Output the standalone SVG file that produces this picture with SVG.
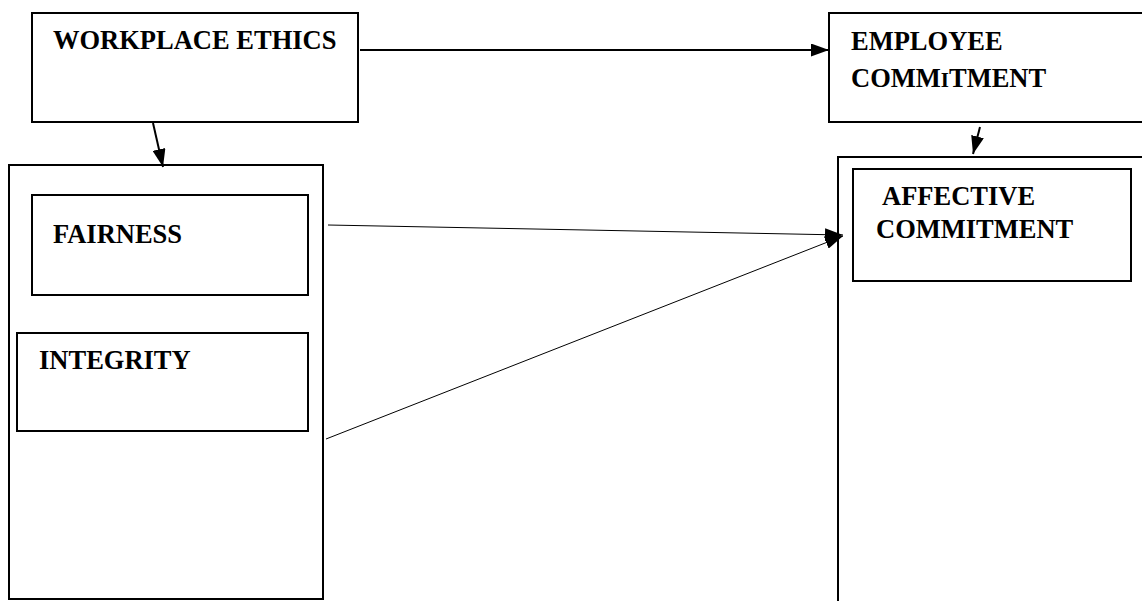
<svg xmlns="http://www.w3.org/2000/svg" width="1142" height="601" viewBox="0 0 1142 601">
<defs>
<style>
.box{fill:none;stroke:#000;stroke-width:2}
.lbl{font-family:"Liberation Serif","Times New Roman",serif;font-weight:bold;font-size:26.5px;fill:#000}
.con{stroke:#000;fill:none}
</style>
<marker id="ah" viewBox="0 0 18 13" refX="18" refY="6.5" markerWidth="18" markerHeight="13" markerUnits="userSpaceOnUse" orient="auto">
<path d="M0,0 L18,6.5 L0,13 Z" fill="#000"/>
</marker>
</defs>
<rect width="1142" height="601" fill="#fff"/>
<g id="workplace-ethics">
<rect class="box" x="32" y="13" width="326" height="109"/>
<text class="lbl" x="53" y="49">WORKPLACE ETHICS</text>
</g>
<g id="employee-commitment">
<rect class="box" x="829" y="13" width="320" height="109"/>
<text class="lbl" x="851" y="50">EMPLOYEE</text>
<text class="lbl" x="851" y="87">COMM<tspan font-size="21px">I</tspan>TMENT</text>
</g>
<g id="ethics-group">
<rect class="box" x="9" y="165" width="314" height="434"/>
</g>
<g id="fairness">
<rect class="box" x="32" y="195" width="276" height="100"/>
<text class="lbl" x="53" y="243">FAIRNESS</text>
</g>
<g id="integrity">
<rect class="box" x="17" y="333" width="291" height="98"/>
<text class="lbl" x="39" y="369">INTEGRITY</text>
</g>
<g id="commitment-group">
<rect class="box" x="838" y="157" width="320" height="460"/>
</g>
<g id="affective-commitment">
<rect class="box" x="853" y="169" width="278" height="112"/>
<text class="lbl" x="882" y="205">AFFECTIVE</text>
<text class="lbl" x="876" y="238">COMMITMENT</text>
</g>
<g id="connectors">
<line class="con" stroke-width="2" x1="360" y1="50" x2="829" y2="50" marker-end="url(#ah)"/>
<line class="con" stroke-width="2" x1="153" y1="123" x2="163" y2="167" marker-end="url(#ah)"/>
<line class="con" stroke-width="2" x1="980" y1="127" x2="973" y2="154" marker-end="url(#ah)"/>
<line class="con" stroke-width="1" x1="328" y1="225" x2="843" y2="235" marker-end="url(#ah)"/>
<line class="con" stroke-width="1" x1="326" y1="439" x2="843" y2="236" marker-end="url(#ah)"/>
</g>
</svg>
